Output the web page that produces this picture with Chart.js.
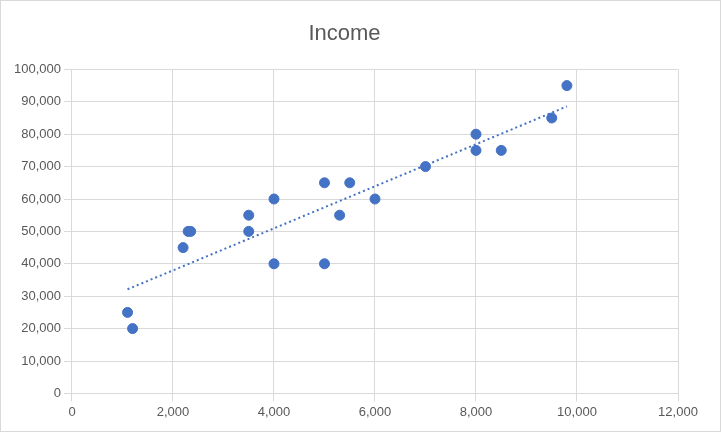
<!DOCTYPE html>
<html><head><script src="https://cdn.jsdelivr.net/npm/chart.js@4"></script>
<style>body{margin:0;background:#fff}#w{width:721px;height:432px;box-sizing:border-box;border:1px solid #d9d9d9}</style></head>
<body><div id="w"><canvas id="c" width="719" height="430"></canvas></div>
<script>
const xValues=[1100,1200,2200,2300,2350,3500,3500,4000,4000,5000,5000,5300,5500,6000,7000,8000,8000,8500,9500,9800];
const yValues=[25000,20000,45000,50000,50000,55000,50000,60000,40000,65000,40000,55000,65000,60000,70000,80000,75000,75000,85000,95000];
const n=xValues.length;
const mx=xValues.reduce((a,b)=>a+b)/n, my=yValues.reduce((a,b)=>a+b)/n;
let sxy=0,sxx=0;for(let i=0;i<n;i++){sxy+=(xValues[i]-mx)*(yValues[i]-my);sxx+=(xValues[i]-mx)**2;}
const slope=sxy/sxx, icpt=my-slope*mx;
const xmin=Math.min(...xValues), xmax=Math.max(...xValues);
new Chart(document.getElementById('c'),{type:'scatter',data:{datasets:[
{data:xValues.map((x,i)=>({x,y:yValues[i]})),backgroundColor:'#4472c4',borderColor:'#4472c4',pointRadius:5,pointHoverRadius:5,order:1},
{type:'line',data:[{x:xmin,y:slope*xmin+icpt},{x:xmax,y:slope*xmax+icpt}],borderColor:'#4472c4',borderWidth:2,borderDash:[2,3],pointRadius:0,fill:false,order:2}
]},options:{responsive:false,animation:false,devicePixelRatio:1,
layout:{padding:{left:10,right:42,top:6,bottom:8}},
plugins:{legend:{display:false},tooltip:{enabled:false},title:{display:true,text:'Income',color:'#595959',font:{family:'Liberation Sans',size:22,weight:'normal'},padding:{top:14,bottom:22}}},
scales:{x:{type:'linear',min:0,max:12000,ticks:{stepSize:2000,color:'#595959',font:{family:'Liberation Sans',size:13}},grid:{color:'#d9d9d9'},border:{color:'#d9d9d9'}},
y:{min:0,max:100000,ticks:{stepSize:10000,color:'#595959',font:{family:'Liberation Sans',size:13}},grid:{color:'#d9d9d9'},border:{color:'#d9d9d9'}}}}});
</script>
</body></html>
